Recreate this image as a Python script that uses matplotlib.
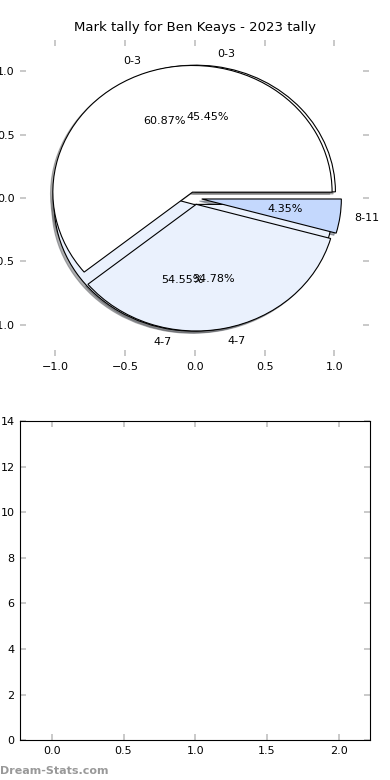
import matplotlib
matplotlib.use('Agg')
import matplotlib.pyplot as plt

plt.rcParams['font.size'] = 8

title = "Mark tally for Ben Keays - 2023 tally"

# earlier tally (drawn underneath)
labels_prev = ['0-3', '4-7']
counts_prev = [5, 6]
colors_prev = ['#ffffff', '#eaf1fd']

# 2023 tally (drawn on top)
labels_2023 = ['0-3', '4-7', '8-11']
counts_2023 = [14, 8, 1]
colors_2023 = ['#ffffff', '#eaf1fd', '#c4d8fd']

fig = plt.figure(figsize=(3.9, 7.8), dpi=100)

shadow = {'ox': -0.012, 'oy': -0.012, 'shade': 0.6}

ax1 = fig.add_axes([0.052, 0.543, 0.895, 0.406])
ax1.pie(counts_prev, labels=labels_prev, colors=colors_prev, autopct='%1.2f%%',
        explode=[0.05] * len(counts_prev), shadow=shadow,
        wedgeprops={'edgecolor': 'black', 'linewidth': 0.8})
ax1.pie(counts_2023, labels=labels_2023, colors=colors_2023, autopct='%1.2f%%',
        explode=[0.05] * len(counts_2023), shadow=shadow,
        wedgeprops={'edgecolor': 'black', 'linewidth': 0.8})
ax1.set_title(title, fontsize=9.5)
ax1.set_frame_on(False)
ax1.set_xlim(-1.25, 1.25)
ax1.set_ylim(-1.25, 1.25)
ax1.set_xticks([-1.0, -0.5, 0.0, 0.5, 1.0])
ax1.set_yticks([-1.0, -0.5, 0.0, 0.5, 1.0])
ax1.set_aspect('auto')

ax2 = fig.add_axes([0.052, 0.051, 0.897, 0.409])
ax2.set_xlim(-0.22, 2.22)
ax2.set_ylim(0, 14)
ax2.set_xticks([0.0, 0.5, 1.0, 1.5, 2.0])
ax2.set_yticks(range(0, 15, 2))

for ax in (ax1, ax2):
    ax.tick_params(direction='in', length=4, width=1.2, color='#c0c0c0',
                   top=True, right=True, labelsize=8, pad=4)

fig.text(0.0, 0.005, 'Dream-Stats.com', color='#999999', fontsize=8,
         fontweight='semibold', ha='left', va='bottom')

fig.savefig('out.png', dpi=100)
